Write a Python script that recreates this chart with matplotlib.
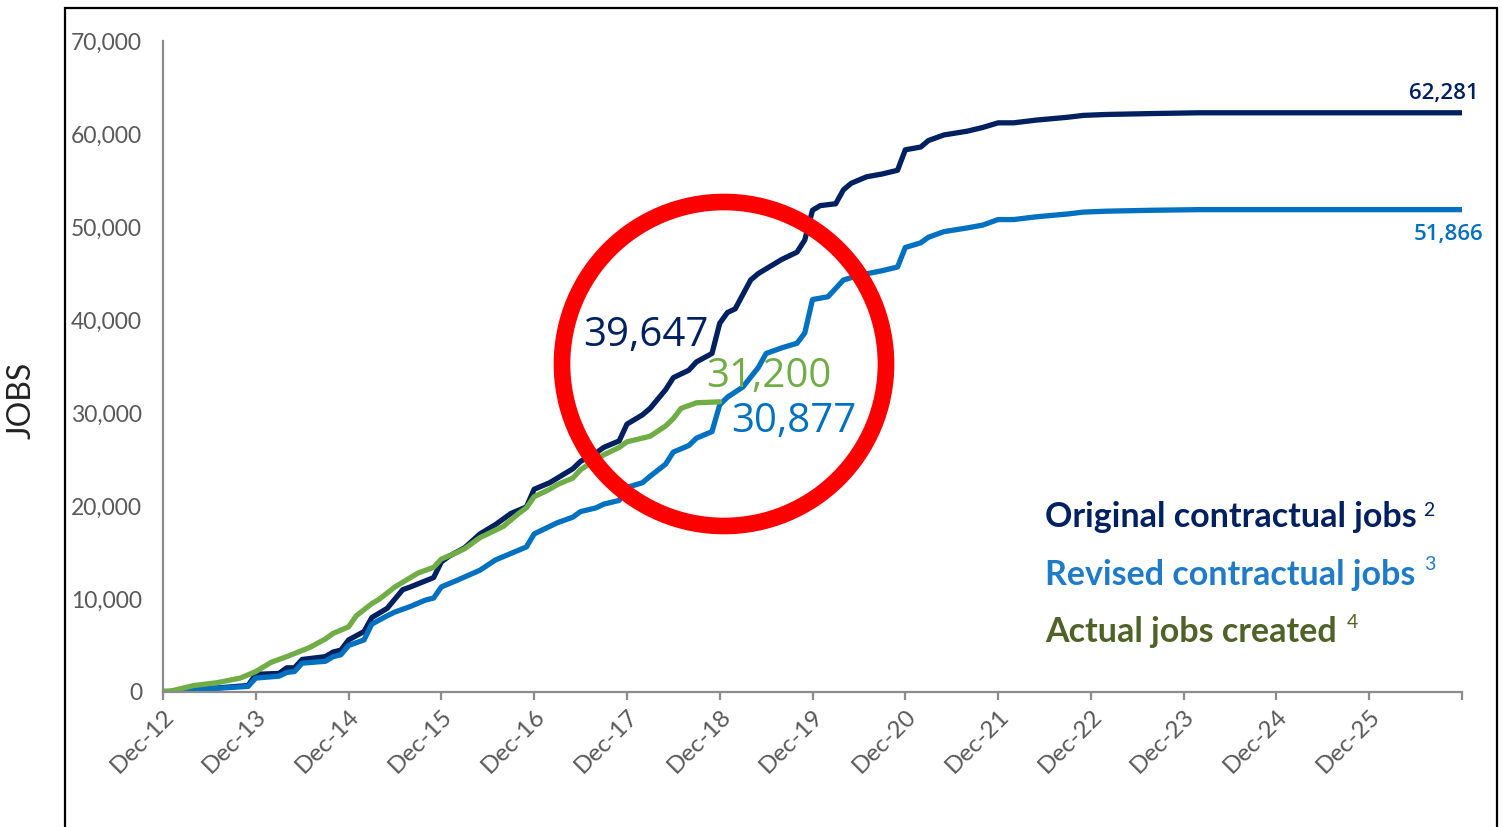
"""Cumulative jobs: original vs revised contractual jobs vs actual jobs created."""
import matplotlib
matplotlib.use("Agg")
import matplotlib.pyplot as plt
from matplotlib.patches import Ellipse, Rectangle

# months since Dec-12 and cumulative jobs
orig_months = [0, 5, 11, 12, 15, 16, 17, 18, 21, 22, 23, 24, 26, 27, 29, 31, 32, 35,
               36, 37, 39, 41, 43, 45, 47, 48, 50, 51, 53, 54, 56, 57, 59, 60, 62, 63,
               65, 66, 68, 69, 71, 72, 73, 74, 76, 77, 79, 80, 82, 83, 84, 85, 87, 88,
               89, 91, 93, 95, 96, 98, 99, 101, 104, 106, 108, 110, 113, 117, 119, 122,
               128, 134, 168]
orig_jobs = [0, 300, 700, 1900, 2000, 2600, 2600, 3500, 3800, 4300, 4500, 5600, 6500,
             8000, 9000, 11000, 11300, 12300, 14000, 14600, 15500, 17000, 18000, 19200,
             19900, 21800, 22500, 23000, 24000, 24800, 25700, 26300, 27000, 28800, 29800,
             30500, 32500, 33800, 34600, 35500, 36400, 39647, 40800, 41200, 44300, 45000,
             46000, 46500, 47300, 48600, 51800, 52300, 52500, 54000, 54700, 55400, 55700,
             56100, 58300, 58600, 59300, 59900, 60300, 60700, 61200, 61200, 61500, 61800,
             62000, 62100, 62200, 62281, 62281]

rev_months = [0, 5, 11, 12, 15, 16, 17, 18, 21, 22, 23, 24, 26, 27, 29, 30, 32, 34, 35,
              36, 38, 41, 43, 45, 47, 48, 49, 51, 53, 54, 56, 57, 59, 60, 62, 63, 65, 66,
              68, 69, 71, 72, 73, 75, 77, 78, 80, 82, 83, 84, 86, 88, 90, 93, 95, 96, 98,
              99, 101, 104, 106, 108, 110, 113, 117, 119, 122, 128, 134, 168]
rev_jobs = [0, 300, 600, 1500, 1700, 2100, 2200, 3100, 3300, 3800, 4000, 5000, 5600, 7300,
            8200, 8600, 9200, 9900, 10100, 11300, 12000, 13100, 14200, 14900, 15600, 17000,
            17400, 18200, 18800, 19400, 19800, 20200, 20600, 22000, 22500, 23200, 24500,
            25800, 26500, 27300, 28000, 30877, 31700, 32800, 34900, 36400, 37000, 37500,
            38600, 42200, 42500, 44300, 44800, 45300, 45700, 47800, 48300, 48900, 49500,
            49900, 50200, 50800, 50800, 51100, 51400, 51600, 51700, 51800, 51866, 51866]

act_months = [0, 1, 2, 4, 7, 10, 12, 14, 16, 19, 21, 22, 24, 25, 27, 28, 30, 33, 35, 36,
              38, 39, 41, 43, 44, 46, 47, 48, 50, 51, 53, 54, 56, 57, 59, 60, 62, 63, 65,
              66, 67, 69, 72]
act_jobs = [100, 100, 300, 700, 1000, 1500, 2200, 3200, 3800, 4800, 5700, 6300, 7000, 8200,
            9500, 10000, 11300, 12800, 13400, 14300, 15000, 15400, 16600, 17400, 17800,
            19200, 19800, 21000, 21800, 22300, 23000, 23900, 25000, 25500, 26300, 26900,
            27300, 27500, 28600, 29400, 30500, 31100, 31200]

tick_months = list(range(0, 169, 12))
tick_labels = [f"Dec-{y}" for y in range(12, 26)] + [""]

NAVY = "#002060"
BLUE = "#0070C0"
GREEN = "#70AD47"
OLIVE = "#4F6228"
GREY = "#595959"

W, H = 1502, 827
fig = plt.figure(figsize=(W / 100, H / 100), dpi=100)
ax = fig.add_axes([163 / W, 1 - 692 / H, (1462 - 163) / W, (692 - 41) / H])

lw = 3.8
for m, v, c in ((orig_months, orig_jobs, NAVY), (rev_months, rev_jobs, BLUE),
                (act_months, act_jobs, GREEN)):
    ax.plot(m, v, color=c, lw=lw, solid_joinstyle="round", solid_capstyle="round")

ax.set_xlim(0, 168)
ax.set_ylim(0, 70000)

for s in ("top", "right"):
    ax.spines[s].set_visible(False)
for s in ("left", "bottom"):
    ax.spines[s].set_color("#8C8C8C")
    ax.spines[s].set_linewidth(1.6)

ax.set_yticks(range(0, 70001, 10000))
ax.set_yticklabels([f"{v:,}" for v in range(0, 70001, 10000)])
ax.tick_params(axis="y", length=0, pad=15, labelsize=16.5, labelcolor=GREY)
ax.set_xticks(tick_months)
ax.set_xticklabels(tick_labels)
ax.tick_params(axis="x", length=6, width=1.6, color="#8C8C8C", direction="out",
               pad=4, labelsize=17.5, labelcolor=GREY)
for lab in ax.get_xticklabels():
    lab.set_rotation(45)
    lab.set_ha("right")
    lab.set_va("top")
    lab.set_rotation_mode("anchor")
for lab in ax.get_xticklabels() + ax.get_yticklabels():
    lab.set_fontfamily("Lato")

fig.text(22 / W, 1 - 400 / H, "JOBS", rotation=90, ha="center", va="center",
         fontsize=23, color="#222222", family="Lato")

# value call-outs
big = dict(fontsize=29, family="Open Sans")
i72 = orig_months.index(72)
r72 = rev_months.index(72)
ax.annotate(f"{orig_jobs[i72]:,}", xy=(72, orig_jobs[i72]),
            xytext=(-8, -9), textcoords="offset points", ha="right", va="center",
            color=NAVY, **big)
ax.annotate(f"{act_jobs[-1]:,}", xy=(act_months[-1], act_jobs[-1]),
            xytext=(-10, 18), textcoords="offset points", ha="left", va="center",
            color=GREEN, **big)
ax.annotate(f"{rev_jobs[r72]:,}", xy=(72, rev_jobs[r72]),
            xytext=(8, -12), textcoords="offset points", ha="left", va="center",
            color=BLUE, **big)
ax.annotate(f"{orig_jobs[-1]:,}", xy=(orig_months[-1], orig_jobs[-1]),
            xytext=(12, 14), textcoords="offset points", ha="right", va="center",
            color=NAVY, fontsize=16, fontweight="semibold", family="Open Sans",
            annotation_clip=False)
ax.annotate(f"{rev_jobs[-1]:,}", xy=(rev_months[-1], rev_jobs[-1]),
            xytext=(15, -18), textcoords="offset points", ha="right", va="center",
            color=BLUE, fontsize=16, fontweight="semibold", family="Open Sans",
            annotation_clip=False)

# legend-style captions
leg = dict(fontsize=24.5, fontweight="bold", family="Lato", ha="left", va="center")
sup = dict(fontsize=14, family="Lato", ha="left", va="center")
fig.text(1045 / W, 1 - 517 / H, "Original contractual jobs", color=NAVY, **leg)
fig.text(1423 / W, 1 - 510 / H, "2", color=NAVY, **sup)
fig.text(1045 / W, 1 - 575 / H, "Revised contractual jobs", color="#1F7BC8", **leg)
fig.text(1424 / W, 1 - 565 / H, "3", color="#1F7BC8", **sup)
fig.text(1045 / W, 1 - 632 / H, "Actual jobs created", color=OLIVE, **leg)
fig.text(1347 / W, 1 - 622 / H, "4", color=OLIVE, **sup)

# red highlight ring and outer frame
fig.patches.append(Ellipse((724 / W, 1 - 364 / H), 2 * 162 / W, 2 * 162 / H,
                           transform=fig.transFigure, fill=False, edgecolor="#FF0000",
                           linewidth=12, zorder=5))
fig.patches.append(Rectangle((65 / W, -0.05), (1497 - 65) / W, 1.05 - 8 / H,
                             transform=fig.transFigure, fill=False, edgecolor="black",
                             linewidth=1.6, zorder=6))

fig.savefig("out.png", dpi=100)
